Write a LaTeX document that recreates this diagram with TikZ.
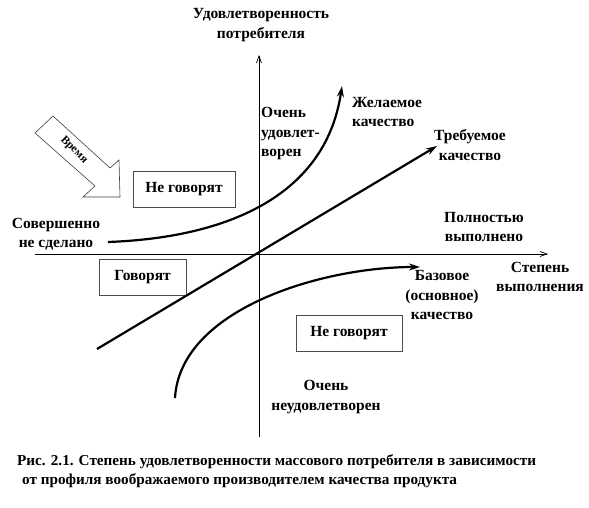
\documentclass[tikz,border=0pt]{standalone}
\usepackage{fontspec}
\setmainfont{Liberation Serif}
\usetikzlibrary{arrows.meta}
\begin{document}
\begin{tikzpicture}[x=1pt,y=-1pt,
  lbl/.style={font=\bfseries\fontsize{15.5}{19.5}\selectfont, align=center, inner sep=0pt},
  boxnode/.style={draw=black!70, line width=0.6pt, fill=white, font=\bfseries\fontsize{15.5}{19.5}\selectfont, inner sep=0pt, minimum height=36pt},
  axis/.style={line width=0.7pt, -{Straight Barb[length=7pt,width=5pt]}},
  curve/.style={line width=2.2pt, -{Stealth[length=11pt,width=7pt]}}
]
\useasboundingbox (0,0) rectangle (589,508);

% axes
\coordinate (xa0) at (35,254);
\coordinate (xa1) at (548,254);
\coordinate (ya0) at (259,437);
\coordinate (ya1) at (259,55);
\draw[axis] (xa0) -- (xa1);
\draw[axis] (ya0) -- (ya1);

% boxes
\node[boxnode, minimum width=102pt] (ng1) at (184,189) {Не говорят};
\node[boxnode, minimum width=87pt] (gv) at (142.5,277) {Говорят};
\node[boxnode, minimum width=106pt] (ng2) at (349,333.5) {Не говорят};

% curves
\coordinate (d0) at (108,242);
\coordinate (d1) at (342,86);
\draw[curve] (d0) .. controls (220,238) and (325,200) .. (d1);

\coordinate (r0) at (97,349);
\coordinate (r1) at (437,146);
\draw[curve] (r0) -- (r1);

\coordinate (b0) at (175,398);
\coordinate (b1) at (420,267);
\draw[curve] (b0) .. controls (180,310) and (320,267) .. (b1);

% time arrow
\draw[line width=0.6pt, fill=white, draw=black!75]
  (53,116) -- (110,168) -- (119,160) -- (120,197) -- (83,197) -- (95,186) -- (35,133) -- cycle;
\node[lbl, font=\bfseries\fontsize{11.5}{13}\selectfont, rotate=-45] (vr) at (74,150) {Время};

% labels
\node[lbl] (title) at (261,25) {Удовлетворенность\\потребителя};
\node[lbl, anchor=west, align=left] (ochen) at (261,134) {Очень\\удовлет-\\ворен};
\node[lbl, anchor=west, align=left] (zhel) at (352,112) {Желаемое\\качество};
\node[lbl] (treb) at (470,145) {Требуемое\\качество};
\node[lbl] (sover) at (56,234) {Совершенно\\не сделано};
\node[lbl] (poln) at (484,227) {Полностью\\выполнено};
\node[lbl] (stepen) at (540,277) {Степень\\выполнения};
\node[lbl] (baz) at (442,295) {Базовое\\(основное)\\качество};
\node[lbl] (neud) at (326,397) {Очень\\неудовлетворен};
\node[lbl, font=\bfseries\fontsize{15.2}{18.5}\selectfont, anchor=west, align=left] (cap) at (17,471) {Рис. 2.1. Степень удовлетворенности массового потребителя в зависимости\\\hspace{5pt}от профиля воображаемого производителем качества продукта};
\end{tikzpicture}
\end{document}
